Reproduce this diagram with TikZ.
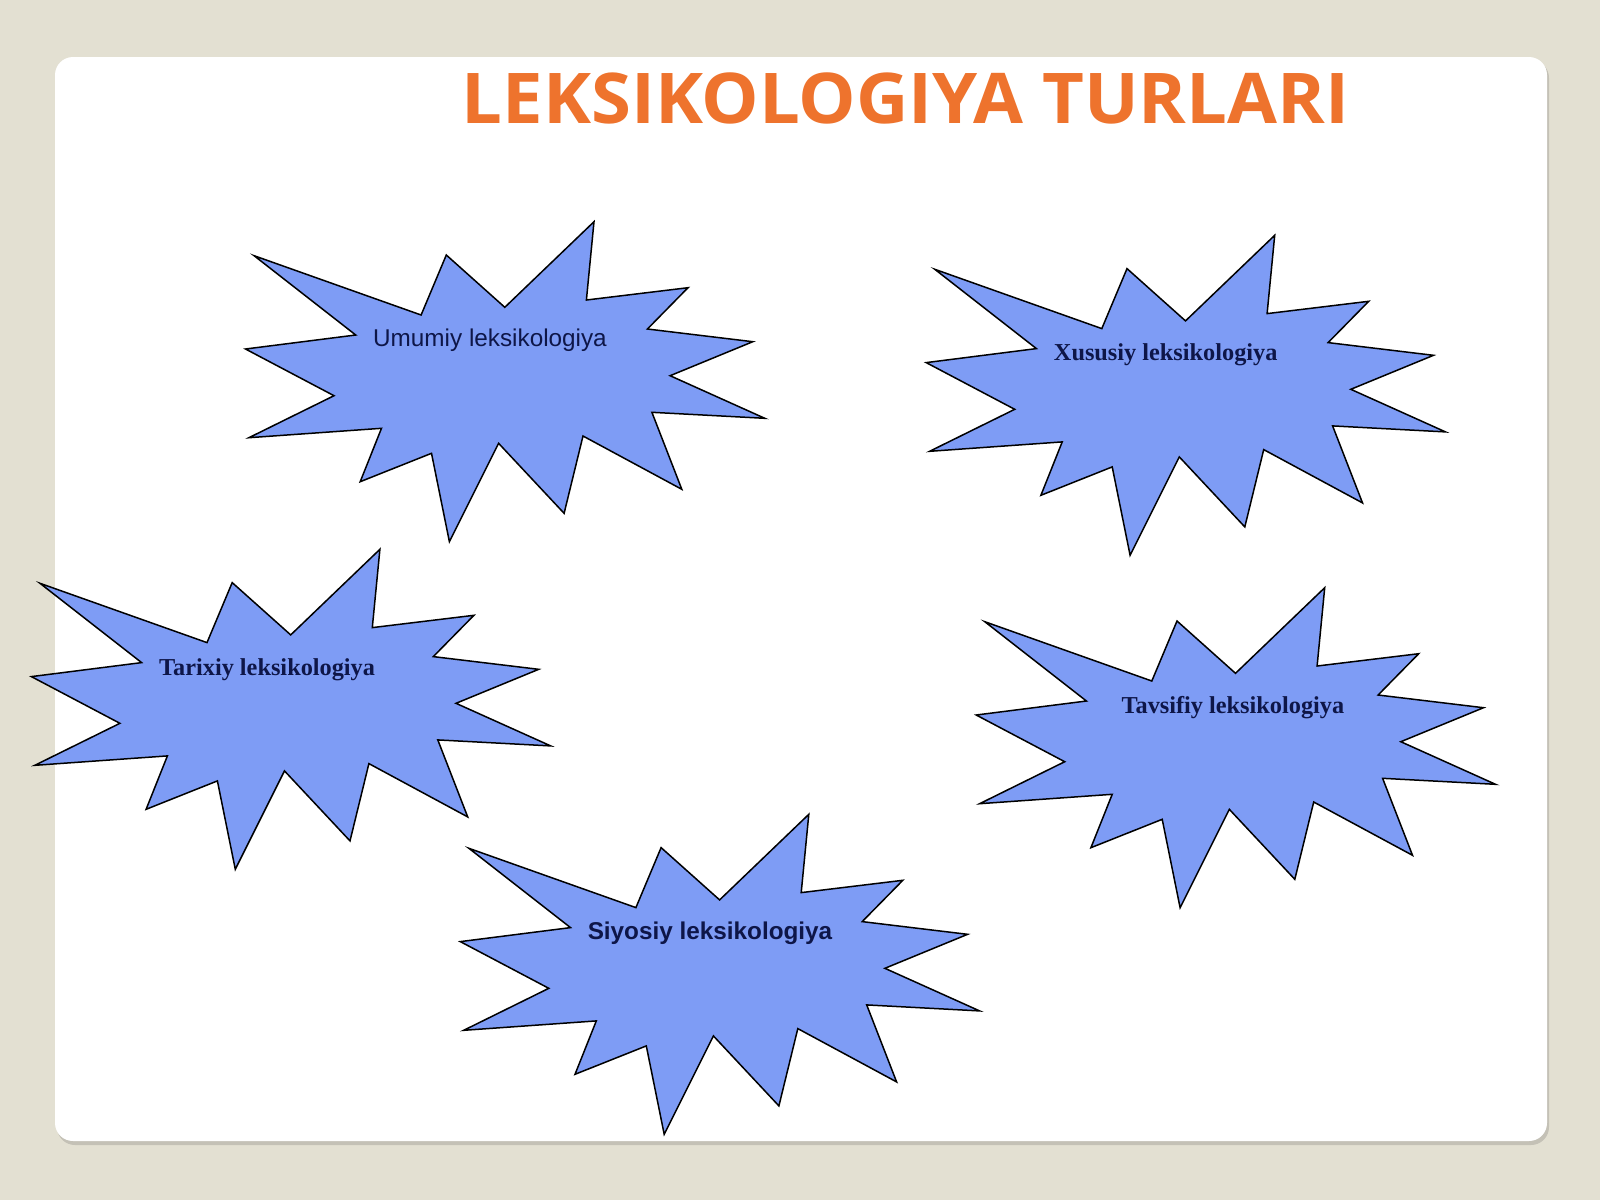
\documentclass[tikz,border=0pt]{standalone}
\usepackage{fontspec}
\setmainfont{Liberation Serif}
\newfontfamily\arialfont{Liberation Sans}
\newfontfamily\titlefont{Open Sans}
\definecolor{bgbeige}{RGB}{227,224,210}
\definecolor{shadowgray}{RGB}{196,193,182}
\definecolor{starblue}{RGB}{126,156,245}
\definecolor{titleorange}{RGB}{238,115,45}
\definecolor{navytext}{RGB}{14,22,72}
\tikzset{
  burst/.style={fill=starblue, draw=black, line width=1.5pt, line join=miter},
  burstlabel/.style={anchor=base, inner sep=0pt, text=navytext, font=\fontsize{24.3}{28}\selectfont},
}
\newcommand\burstshape{%
  (254.1,255.7) -- (421.1,315.0) -- (446.3,255.0) -- (504.8,307.3) -- (594.0,221.7) --
  (586.4,300.0) -- (688.0,287.7) -- (647.4,329.0) -- (752.8,341.7) -- (670.1,375.7) --
  (764.8,418.3) -- (651.9,412.3) -- (681.8,489.3) -- (583.0,436.0) -- (564.1,513.3) --
  (498.6,443.3) -- (449.4,541.7) -- (431.5,453.3) -- (360.2,481.7) -- (381.5,428.3) --
  (248.9,437.7) -- (334.0,395.7) -- (245.5,349.0) -- (355.7,335.0) -- cycle}
\begin{document}
\begin{tikzpicture}[x=1pt,y=-1pt]
\useasboundingbox (0,0) rectangle (1600,1200);
\fill[bgbeige] (0,0) rectangle (1600,1200);
% panel shadow and panel
\fill[shadowgray, rounded corners=18pt] (57,60) rectangle (1549,1145);
\fill[white, rounded corners=18pt] (55,57) rectangle (1547,1141);
% title
\node[anchor=base, inner sep=0pt, xscale=1.034, text=titleorange, font=\titlefont\bfseries\fontsize{70}{80}\selectfont] (title) at (905.5,123.3) {LEKSIKOLOGIYA TURLARI};
% star 1
\begin{scope}
  \draw[burst] \burstshape;
  \node[burstlabel, font=\arialfont\fontsize{24.3}{28}\selectfont] (umumiy) at (490,346.7) {Umumiy leksikologiya};
\end{scope}
% star 2
\begin{scope}[shift={(680.7,13.6)}]
  \draw[burst] \burstshape;
  \node[burstlabel, font=\bfseries\fontsize{24.3}{28}\selectfont] (xususiy) at (485,346.4) {Xususiy leksikologiya};
\end{scope}
% star 3
\begin{scope}[shift={(-214.1,327.6)}]
  \draw[burst] \burstshape;
  \node[burstlabel, font=\bfseries\fontsize{24.3}{28}\selectfont] (tarixiy) at (481.2,347.4) {Tarixiy leksikologiya};
\end{scope}
% star 4
\begin{scope}[shift={(730.7,366)}]
  \draw[burst] \burstshape;
  \node[burstlabel, font=\bfseries\fontsize{24.3}{28}\selectfont] (tavsifiy) at (502.2,347.3) {Tavsifiy leksikologiya};
\end{scope}
% star 5
\begin{scope}[shift={(214.8,592.6)}]
  \draw[burst] \burstshape;
  \node[burstlabel, font=\arialfont\bfseries\fontsize{24.3}{28}\selectfont] (siyosiy) at (495.2,346.7) {Siyosiy leksikologiya};
\end{scope}
\end{tikzpicture}
\end{document}
